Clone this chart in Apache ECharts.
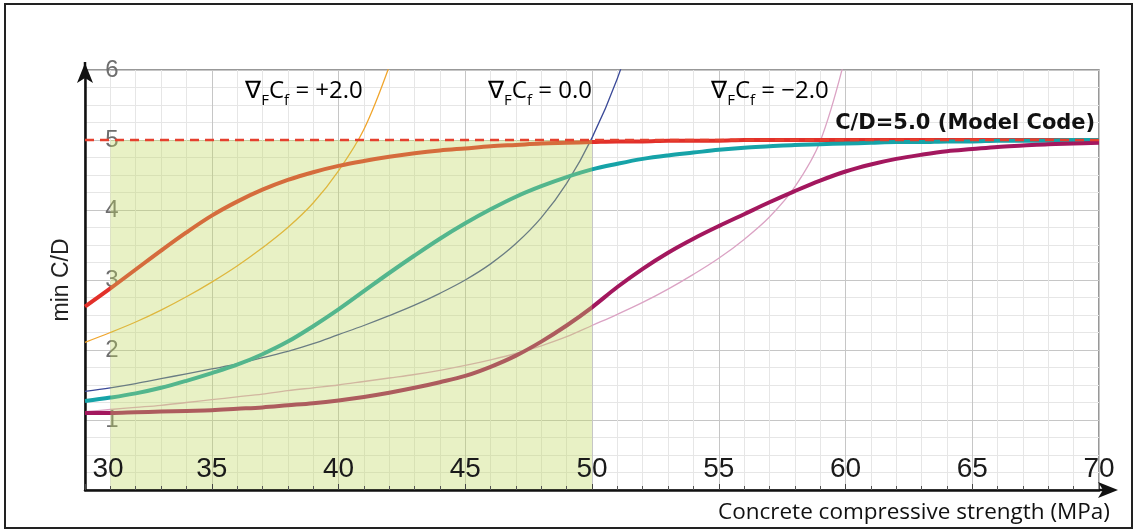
<!DOCTYPE html>
<html><head><meta charset="utf-8">
<script src="https://cdn.jsdelivr.net/npm/echarts@6/dist/echarts.min.js"></script>
<style>html,body{margin:0;padding:0;background:#fff}#c{width:1137px;height:531px}</style>
</head><body><div id="c"></div>
<script>
// Concrete compressive strength (MPa)
const strength = [30,31,32,33,34,35,36,37,38,39,40,41,42,43,44,45,46,47,48,49,50,51,52,53,54,55,56,57,58,59,60,61,62,63,64,65,66,67,68,69,70];
const xTicks = [30,35,40,45,50,55,60,65,70];
const yTicks = [1,2,3,4,5,6];

// min C/D, thick curves
const thickPlus2 = [2.62,2.88,3.15,3.42,3.68,3.92,4.12,4.29,4.43,4.54,4.63,4.70,4.76,4.81,4.85,4.88,4.91,4.93,4.95,4.96,4.97,4.98,4.98,4.99,4.99,4.99,5.0,5.0,5.0,5.0,5.0,5.0,5.0,5.0,5.0,5.0,5.0,5.0,5.0,5.0,5.0];
const thickZero = [1.27,1.32,1.38,1.46,1.56,1.67,1.79,1.94,2.12,2.34,2.58,2.84,3.10,3.35,3.59,3.81,4.01,4.19,4.34,4.47,4.58,4.66,4.73,4.78,4.82,4.86,4.89,4.91,4.93,4.94,4.95,4.96,4.97,4.97,4.98,4.98,4.99,4.99,4.99,5.0,5.0];
const thickMinus2 = [1.10,1.10,1.11,1.12,1.13,1.14,1.16,1.18,1.21,1.24,1.28,1.33,1.39,1.46,1.54,1.63,1.76,1.92,2.12,2.35,2.61,2.90,3.16,3.39,3.59,3.77,3.94,4.11,4.27,4.42,4.55,4.65,4.73,4.79,4.84,4.87,4.90,4.92,4.94,4.95,4.96];
// thin curves (run out of the top of the plot)
const thinPlus2 = [2.11,2.25,2.40,2.57,2.76,2.97,3.20,3.46,3.75,4.10,4.56,5.15,6.05];
const thinZero = [1.41,1.46,1.52,1.59,1.66,1.73,1.80,1.89,1.98,2.09,2.22,2.35,2.49,2.64,2.81,3.00,3.23,3.52,3.89,4.38,5.03,5.88,6.98];
const thinMinus2 = [1.12,1.15,1.18,1.21,1.25,1.29,1.33,1.37,1.42,1.46,1.50,1.55,1.60,1.65,1.71,1.78,1.86,1.95,2.06,2.19,2.35,2.51,2.68,2.87,3.08,3.31,3.58,3.90,4.33,4.98,6.2];

const modelCodeCD = 5.0;
const shadedRegion = [31, 50, 0, 5]; // x from, x to, y from, y to

const pairs = arr => arr.map((v, i) => [strength[i], v]);

const chart = echarts.init(document.getElementById('c'));

function thick(name, data, color) {
  return { name, type: 'line', data: pairs(data), smooth: 0.35, showSymbol: false, z: 4,
    lineStyle: { color, width: 4 } };
}
function thin(name, data, color) {
  return { name, type: 'line', data: pairs(data), smooth: 0.35, showSymbol: false, z: 3,
    lineStyle: { color, width: 1.3 } };
}

const xLabelFont = { fontSize: 28, color: '#1a1a1a', fontFamily: 'Liberation Sans' };

chart.setOption({
  animation: false,
  grid: { left: 85, right: 38, top: 70, bottom: 41, show: true, borderColor: '#777', borderWidth: 1.5 },
  xAxis: [{
    type: 'value', min: 30, max: 70, interval: 5, position: 'bottom',
    axisLine: { show: false }, axisTick: { show: false }, axisLabel: { show: false },
    minorTick: { show: false, splitNumber: 5 },
    splitLine: { show: true, lineStyle: { color: '#c6c6c6', width: 1 } },
    minorSplitLine: { show: true, lineStyle: { color: '#e6e6e6', width: 1 } }
  }, {
    type: 'value', min: 30, max: 70, interval: 5, position: 'bottom', z: 15,
    axisLine: { show: true, onZero: false, lineStyle: { color: '#111', width: 2.5 } },
    axisTick: { show: true, inside: true, length: 6, lineStyle: { color: '#444' } },
    minorTick: { show: true, splitNumber: 5, length: 4, lineStyle: { color: '#555' } },
    splitLine: { show: false }, minorSplitLine: { show: false },
    axisLabel: Object.assign({
      inside: true, margin: 21, verticalAlign: 'middle',
      formatter: v => (xTicks.indexOf(v) < 0 ? '' : (v === 30 ? '{m|' + v + '}' : String(v))),
      rich: { m: Object.assign({ padding: [0, 0, 0, 46] }, xLabelFont) }
    }, xLabelFont)
  }],
  yAxis: {
    type: 'value', min: 0, max: 6, interval: 1,
    name: 'min C/D', nameLocation: 'middle', nameGap: 12, nameRotate: 90,
    nameTextStyle: { fontSize: 23, color: '#222', fontFamily: 'Liberation Sans' },
    axisLine: { show: true, lineStyle: { color: '#111', width: 2.5 } },
    axisTick: { show: false },
    minorTick: { show: false, splitNumber: 4 },
    splitLine: { show: true, lineStyle: { color: '#c6c6c6', width: 1 } },
    minorSplitLine: { show: true, lineStyle: { color: '#e6e6e6', width: 1 } },
    axisLabel: {
      inside: true, margin: 27, align: 'center', fontSize: 24, color: '#6e6e6e', fontFamily: 'Liberation Sans',
      formatter: v => (yTicks.indexOf(v) < 0 ? '' : String(v))
    }
  },
  series: [
    thin('thin +2.0', thinPlus2, '#f0a52c'),
    thin('thin 0.0', thinZero, '#3b4a98'),
    thin('thin -2.0', thinMinus2, '#dba3c4'),
    thick('+2.0', thickPlus2, '#e2302a'),
    thick('0.0', thickZero, '#16a3a8'),
    thick('-2.0', thickMinus2, '#a3175e'),
    {
      type: 'custom', z: 10, silent: true,
      data: [shadedRegion],
      encode: { x: [0, 1], y: [2, 3] },
      renderItem: (params, api) => {
        const p1 = api.coord([api.value(0), api.value(3)]);
        const p2 = api.coord([api.value(1), api.value(2)]);
        return { type: 'rect', shape: { x: p1[0], y: p1[1], width: p2[0] - p1[0], height: p2[1] - p1[1] },
          style: { fill: 'rgba(190,215,95,0.36)' } };
      }
    },
    {
      type: 'line', z: 12, showSymbol: false, silent: true,
      data: [[30, modelCodeCD], [70, modelCodeCD]],
      lineStyle: { color: '#e5402e', width: 2.5, type: [9, 6] }
    }
  ]
});

const px = (x, y) => chart.convertToPixel({ gridIndex: 0 }, [x, y]);
const o = px(30, 0), e = px(70, 6);
const ax = o[0], ay = o[1], ex = e[0], ey = e[1];

const mainTxt = { fontSize: 24, fontFamily: 'Open Sans', color: '#111', lineHeight: 34, verticalAlign: 'middle' };
const subTxt = { fontSize: 15, fontFamily: 'Open Sans', color: '#111', lineHeight: 34, verticalAlign: 'bottom' };
function nabla(val, x, y) {
  const p = px(x, y);
  return { type: 'text', x: p[0], y: p[1], z: 20,
    style: { text: '{a|∇}{s|F}{a|C}{s|f}{a| = ' + val + '}', align: 'center', verticalAlign: 'middle',
      rich: { a: mainTxt, s: subTxt } } };
}
const cdPos = px(69.85, 5.24);
const titlePos = [ex + 11, ay + 23];

chart.setOption({
  graphic: [
    { type: 'rect', shape: { x: 5, y: 4, width: 1127, height: 524 }, style: { fill: 'none', stroke: '#222', lineWidth: 2 }, z: 0, silent: true },
    { type: 'line', shape: { x1: ax, y1: ey, x2: ax, y2: ey - 8 }, style: { stroke: '#111', lineWidth: 2.5 }, z: 20 },
    { type: 'polygon', shape: { points: [[ax, ey - 7], [ax - 8, ey + 13], [ax, ey + 8], [ax + 8, ey + 13]] }, style: { fill: '#111' }, z: 20 },
    { type: 'line', shape: { x1: ex, y1: ay, x2: ex + 8, y2: ay }, style: { stroke: '#111', lineWidth: 2.5 }, z: 20 },
    { type: 'polygon', shape: { points: [[ex + 19, ay], [ex - 1, ay - 8], [ex + 4, ay], [ex - 1, ay + 8]] }, style: { fill: '#111' }, z: 20 },
    nabla('+2.0', 38.64, 5.70),
    nabla('0.0', 47.95, 5.70),
    nabla('\u22122.0', 57.02, 5.70),
    { type: 'text', x: cdPos[0], y: cdPos[1], z: 20,
      style: { text: 'C/D=5.0 (Model Code)', align: 'right', verticalAlign: 'middle', fontSize: 21, fontWeight: 'bold', fontFamily: 'DejaVu Sans', fill: '#111' } },
    { type: 'text', x: titlePos[0], y: titlePos[1], z: 20,
      style: { text: 'Concrete compressive strength (MPa)', align: 'right', verticalAlign: 'middle', fontSize: 22.5, fontFamily: 'Open Sans', fill: '#111' } }
  ]
});
</script></body></html>
